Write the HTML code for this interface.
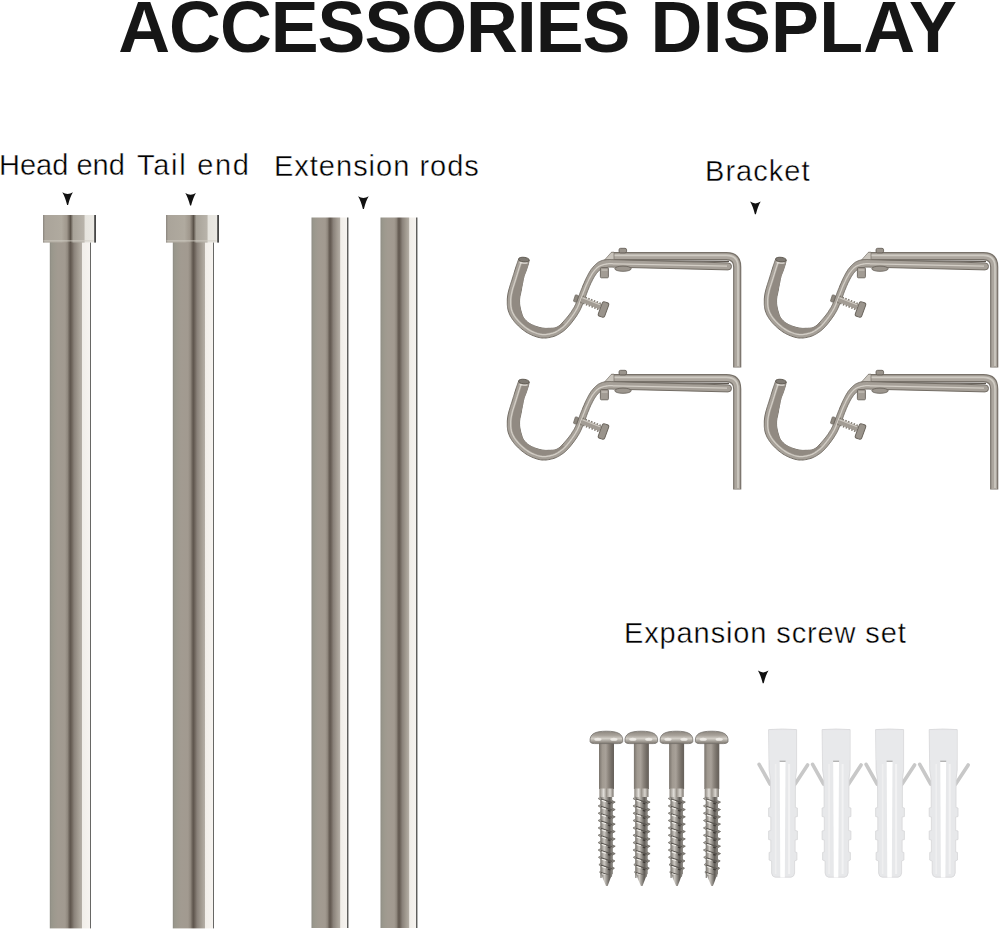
<!DOCTYPE html>
<html><head><meta charset="utf-8">
<style>
html,body{margin:0;padding:0;background:#fff;}
body{width:1000px;height:931px;position:relative;overflow:hidden;font-family:"Liberation Sans",sans-serif;}
svg{position:absolute;left:0;top:0;}
</style></head><body>
<svg width="1000" height="931" viewBox="0 0 1000 931">
<defs>
<linearGradient id="rod" x1="0" x2="1" y1="0" y2="0">
  <stop offset="0" stop-color="#8c8a82"/>
  <stop offset="0.04" stop-color="#98968b"/>
  <stop offset="0.1" stop-color="#9d998e"/>
  <stop offset="0.2" stop-color="#a29b91"/>
  <stop offset="0.37" stop-color="#a29a90"/>
  <stop offset="0.43" stop-color="#90887e"/>
  <stop offset="0.475" stop-color="#6c635a"/>
  <stop offset="0.50" stop-color="#60574f"/>
  <stop offset="0.535" stop-color="#6e655c"/>
  <stop offset="0.59" stop-color="#8a827a"/>
  <stop offset="0.68" stop-color="#a0998f"/>
  <stop offset="0.77" stop-color="#b3ada4"/>
  <stop offset="0.787" stop-color="#f1eee9"/>
  <stop offset="0.965" stop-color="#f6f3ef"/>
  <stop offset="0.972" stop-color="#5e5e5c"/>
  <stop offset="1" stop-color="#6e6e6c"/>
</linearGradient>
<linearGradient id="cap" x1="0" x2="1" y1="0" y2="0">
  <stop offset="0" stop-color="#8a857e"/>
  <stop offset="0.04" stop-color="#aaa49a"/>
  <stop offset="0.35" stop-color="#b0aa9f"/>
  <stop offset="0.45" stop-color="#9f978c"/>
  <stop offset="0.52" stop-color="#5a5249"/>
  <stop offset="0.57" stop-color="#a8a399"/>
  <stop offset="0.77" stop-color="#b8b3aa"/>
  <stop offset="0.80" stop-color="#e6e4de"/>
  <stop offset="0.962" stop-color="#ebe9e4"/>
  <stop offset="0.975" stop-color="#3a3a3a"/>
  <stop offset="1" stop-color="#505050"/>
</linearGradient>
<path id="arr" d="M-5.3 0 Q0 3.6 5.3 0 Q2.6 4.5 0.5 12.6 L-0.5 12.6 Q-2.6 4.5 -5.3 0 Z" fill="#111"/>

<linearGradient id="shank" x1="0" x2="1" y1="0" y2="0">
  <stop offset="0" stop-color="#79736c"/>
  <stop offset="0.22" stop-color="#a09990"/>
  <stop offset="0.45" stop-color="#a8a199"/>
  <stop offset="0.65" stop-color="#8a837b"/>
  <stop offset="0.85" stop-color="#716b64"/>
  <stop offset="1" stop-color="#66605a"/>
</linearGradient>
<linearGradient id="ring" x1="0" x2="1" y1="0" y2="0">
  <stop offset="0" stop-color="#8c867e"/>
  <stop offset="0.3" stop-color="#e2dfda"/>
  <stop offset="0.5" stop-color="#9a948c"/>
  <stop offset="0.75" stop-color="#d8d4ce"/>
  <stop offset="1" stop-color="#7a746d"/>
</linearGradient>
<linearGradient id="thr" x1="0" x2="1" y1="0" y2="0">
  <stop offset="0" stop-color="#7c7872"/>
  <stop offset="0.3" stop-color="#cdc9c3"/>
  <stop offset="0.55" stop-color="#918d87"/>
  <stop offset="0.75" stop-color="#625e59"/>
  <stop offset="1" stop-color="#8e8a84"/>
</linearGradient>
<linearGradient id="head" x1="0" x2="0" y1="0" y2="1">
  <stop offset="0" stop-color="#8c867e"/>
  <stop offset="0.35" stop-color="#aaa49c"/>
  <stop offset="0.6" stop-color="#d2cec7"/>
  <stop offset="1" stop-color="#7c766e"/>
</linearGradient>
<g id="screw">
  <rect x="-7.4" y="742" width="15" height="47" fill="url(#shank)"/>
  <path d="M-16.3 741.5 C-17 734 -11.5 731.2 0 731.2 C11.5 731.2 17 734 16.3 741.5 Q16 743.6 12 743.6 L-12 743.6 Q-16 743.6 -16.3 741.5 Z" fill="url(#head)" stroke="#75716c" stroke-width="0.8"/>
  <ellipse cx="-8.5" cy="739.3" rx="3.6" ry="1.5" fill="#ece9e4"/>
  <ellipse cx="7.5" cy="739.3" rx="3.6" ry="1.5" fill="#ece9e4"/>
  <rect x="-7" y="788.5" width="14.2" height="8.5" fill="url(#ring)"/>
  <path d="M-5.4 797.0 L-8.3 798.5 L-5.4 800.4 L-5.4 804.4 L-8.3 805.9 L-5.4 807.8 L-5.4 811.7 L-8.3 813.2 L-5.4 815.1 L-5.4 819.1 L-8.3 820.5 L-5.4 822.4 L-5.4 826.4 L-8.3 827.9 L-5.4 829.8 L-5.4 833.8 L-8.3 835.2 L-5.4 837.1 L-5.4 841.1 L-8.3 842.6 L-5.4 844.5 L-5.4 848.5 L-8.3 850.0 L-5.4 851.9 L-5.4 855.8 L-8.0 857.3 L-5.4 859.2 L-5.4 863.1 L-7.5 864.6 L-5.4 866.5 L-5.4 870.5 L-6.8 872.0 L-5.4 873.9 L-5.4 877.9 Z" fill="#aeaaa4" stroke="#7a7670" stroke-width="0.8"/>
  <path d="M5.6 800.6 L8.8 802.1 L5.6 804.0 L5.6 808.0 L8.8 809.5 L5.6 811.4 L5.6 815.3 L8.8 816.8 L5.6 818.7 L5.6 822.7 L8.8 824.1 L5.6 826.0 L5.6 830.0 L8.8 831.5 L5.6 833.4 L5.6 837.4 L8.8 838.9 L5.6 840.8 L5.6 844.7 L8.8 846.2 L5.6 848.1 L5.6 852.1 L8.8 853.6 L5.6 855.5 L5.6 859.4 L8.5 860.9 L5.6 862.8 L5.6 866.8 L8.0 868.2 L5.6 870.1 L5.6 874.1 Z" fill="#8c8882" stroke="#68645e" stroke-width="0.8"/>
  <rect x="-5.6" y="797" width="11.4" height="78" fill="url(#thr)"/>
  <path d="M-5.4 799.0 L5.6 802.6 M-5.4 806.4 L5.6 810.0 M-5.4 813.7 L5.6 817.3 M-5.4 821.0 L5.6 824.6 M-5.4 828.4 L5.6 832.0 M-5.4 835.8 L5.6 839.4 M-5.4 843.1 L5.6 846.7 M-5.4 850.5 L5.6 854.1 M-5.4 857.8 L5.6 861.4 M-5.4 865.1 L5.6 868.8 M-5.4 872.5 L5.6 876.1" fill="none" stroke="#5a5651" stroke-width="1.2"/>
  <path d="M-4.6 800.4 L-0.4 801.7 M-4.6 807.8 L-0.4 809.1 M-4.6 815.1 L-0.4 816.4 M-4.6 822.4 L-0.4 823.8 M-4.6 829.8 L-0.4 831.1 M-4.6 837.1 L-0.4 838.5 M-4.6 844.5 L-0.4 845.8 M-4.6 851.9 L-0.4 853.2 M-4.6 859.2 L-0.4 860.5 M-4.6 866.5 L-0.4 867.9 M-4.6 873.9 L-0.4 875.2" fill="none" stroke="#f0eee9" stroke-width="1.1"/>
  <path d="M1.5 803.0 L4 803.8 M1.5 810.4 L4 811.1 M1.5 817.7 L4 818.5 M1.5 825.0 L4 825.8 M1.5 832.4 L4 833.2 M1.5 839.8 L4 840.5 M1.5 847.1 L4 847.9 M1.5 854.5 L4 855.2 M1.5 861.8 L4 862.6 M1.5 869.1 L4 869.9 M1.5 876.5 L4 877.3" fill="none" stroke="#3e3a36" stroke-width="1.3"/>
  <path d="M-5.2 874.5 L5.6 874.5 L1.2 886 L-0.4 886 Z" fill="url(#thr)"/>
</g>
<g id="anchor">
  <path d="M-23.5 764.3 L-12.5 784" stroke="#c8c8c8" stroke-width="3.6" stroke-linecap="round"/>
  <path d="M25 765 L12.5 784" stroke="#c8c8c8" stroke-width="3.6" stroke-linecap="round"/>
  <path d="M-14 729.6 Q0 728.4 14 729.6 L14 770 L13 778 L12.8 790 L12.8 807.5 L14.8 808 L14.8 816.5 L12.5 817 L12.5 830.5 L14.8 831 L14.8 839.5 L12.5 840 L12.5 852 L14.3 852.5 L14.3 860 L12 861 L12 873 Q11.5 877 8.5 877.2 L-7.5 877.2 Q-10.5 877 -11 873 L-11 861 L-13.5 860 L-13.5 852.5 L-11.8 852 L-11.8 840 L-14 839.5 L-14 831 L-11.8 830.5 L-11.8 817 L-14 816.5 L-14 808 L-12 807.5 L-12 790 L-12.3 778 L-13.5 770 Z" fill="#e7e8ea" stroke="#d6d6d8" stroke-width="0.8"/>
  <rect x="-13.2" y="730.3" width="26.6" height="30" fill="#e8e9eb"/>
  <path d="M-2.9 761.5 L2.9 761.5 L2.2 877.5 L-2.3 877.5 Z" fill="#ffffff"/>
  <path d="M-3 761.3 L3 761.3" stroke="#b4b4b4" stroke-width="1.4"/>
  <path d="M6.5 764 L6.5 874" stroke="#f2f2f3" stroke-width="2"/>
  <path d="M-7 764 L-7 874" stroke="#efeff0" stroke-width="1.6"/>
</g>
</defs>

<!-- title -->
<g font-family="Liberation Sans" font-weight="bold" font-size="71.8" fill="#161616">
<text x="118.3" y="51.6" textLength="512.2" lengthAdjust="spacing">ACCESSORIES</text>
<text x="650.5" y="51.6" textLength="306.3" lengthAdjust="spacing">DISPLAY</text>
</g>

<!-- labels -->
<g font-family="Liberation Sans" font-size="29" fill="#000" stroke="#fff" stroke-width="0.4">
<text x="-1" y="174.5">Head end</text>
<text x="137" y="175" textLength="112" lengthAdjust="spacing">Tail end</text>
<text x="274" y="175.5" textLength="204.8" lengthAdjust="spacing">Extension rods</text>
<text x="705" y="180.5" textLength="104.6" lengthAdjust="spacing">Bracket</text>
<text x="624" y="643" textLength="281.8" lengthAdjust="spacing">Expansion screw set</text>
</g>

<!-- arrows -->
<use href="#arr" x="67.6" y="192.3"/>
<use href="#arr" x="190.6" y="192.9"/>
<use href="#arr" x="363.4" y="196.3"/>
<use href="#arr" x="755.4" y="201.6"/>
<use href="#arr" x="763.2" y="670.6"/>

<!-- rods -->
<rect x="49.8" y="240" width="41.2" height="688.4" fill="url(#rod)"/>
<rect x="43" y="215" width="53" height="27.6" fill="url(#cap)"/>
<rect x="43.5" y="240" width="50" height="1.6" fill="#d2cdc5" opacity="0.55"/>
<rect x="172.8" y="240" width="41.2" height="688.4" fill="url(#rod)"/>
<rect x="166" y="215" width="53" height="27.6" fill="url(#cap)"/>
<rect x="166.5" y="240" width="50" height="1.6" fill="#d2cdc5" opacity="0.55"/>
<rect x="311.5" y="217.5" width="37" height="710.5" fill="url(#rod)"/>
<rect x="380.5" y="217.5" width="37" height="710.5" fill="url(#rod)"/>


<!-- bracket template -->
<g id="br">
  <!-- L bracket: upper rod + vertical arm -->
  <path d="M611 256.2 L726.5 256.2 Q737.2 256.2 737.2 266.9 L737.2 367.6" fill="none" stroke="#78726a" stroke-width="8.2"/>
  <path d="M611 256.2 L726.5 256.2 Q737.2 256.2 737.2 266.9 L737.2 367" fill="none" stroke="#aca69e" stroke-width="5.8"/>
  <path d="M612 255.4 L726.5 255.4 Q738 255.4 738 266.9 L738 366" fill="none" stroke="#cfcbc3" stroke-width="1.6"/>
  <path d="M604.5 260 L611.5 252.2 L614 252.2 L614 260.2 Z" fill="#c9c4bc" stroke="#7a746c" stroke-width="0.7"/>
  <!-- top nub -->
  <rect x="619" y="248.3" width="7.6" height="4.6" rx="1.6" fill="#9a948c" stroke="#5e5850" stroke-width="0.8"/>
  <!-- shadow line between rods -->
  <path d="M610 260.6 L729 261.3" stroke="#5c564f" stroke-width="1.2" fill="none"/>
  <!-- hook: band -->
  <path d="M518.6 259.2 L518.3 260.1 L518.0 260.9 L517.7 261.8 L517.4 262.6 L517.1 263.5 L516.8 264.3 L516.5 265.2 L516.2 266.1 L515.9 267.0 L515.6 268.0 L515.3 269.0 L514.9 270.1 L514.6 271.1 L514.3 272.2 L513.9 273.4 L513.6 274.5 L513.2 275.6 L512.9 276.8 L512.5 277.9 L512.2 279.0 L511.9 280.1 L511.5 281.2 L511.1 282.3 L510.7 283.4 L510.4 284.6 L510.0 285.7 L509.7 286.8 L509.4 287.9 L509.1 288.9 L508.8 290.0 L508.6 291.0 L508.3 292.0 L508.1 293.0 L507.9 294.0 L507.8 295.0 L507.6 296.0 L507.5 297.0 L507.4 298.0 L507.3 299.0 L507.3 300.0 L507.3 301.1 L507.3 302.1 L507.3 303.2 L507.3 304.4 L507.4 305.5 L507.5 306.6 L507.6 307.7 L507.8 308.8 L508.1 309.9 L508.4 311.0 L508.8 312.1 L509.2 313.1 L509.6 314.2 L510.1 315.2 L510.7 316.3 L511.3 317.3 L512.0 318.4 L512.7 319.4 L513.5 320.5 L514.3 321.5 L515.2 322.6 L516.2 323.7 L517.3 324.8 L518.4 325.9 L519.6 327.0 L520.8 328.1 L522.1 329.2 L523.4 330.2 L524.7 331.1 L526.0 332.0 L527.3 332.8 L528.7 333.6 L530.2 334.3 L531.6 335.0 L533.1 335.6 L534.6 336.2 L536.1 336.7 L537.6 337.2 L539.1 337.5 L540.5 337.8 L541.9 338.0 L543.3 338.0 L544.7 338.0 L546.1 338.0 L547.5 337.8 L548.8 337.6 L550.2 337.3 L551.5 337.0 L552.8 336.7 L554.0 336.3 L555.2 335.9 L556.4 335.4 L557.5 334.8 L558.6 334.3 L559.7 333.6 L560.8 332.9 L561.8 332.2 L562.9 331.5 L563.8 330.8 L564.8 330.0 L565.7 329.2 L566.6 328.4 L567.5 327.5 L568.3 326.6 L569.1 325.7 L569.9 324.8 L570.7 323.8 L571.4 322.9 L572.2 321.9 L572.9 321.0 L573.6 320.1 L574.3 319.1 L575.0 318.1 L575.7 317.2 L576.4 316.2 L577.0 315.2 L577.6 314.2 L578.2 313.3 L578.8 312.3 L579.3 311.4 L579.8 310.5 L580.3 309.6 L580.7 308.7 L581.1 307.8 L581.5 306.9 L581.9 306.0 L582.2 305.1 L582.6 304.3 L582.9 303.4 L583.3 302.5 L583.7 301.6 L584.0 300.7 L584.3 299.8 L584.7 298.9 L585.0 298.0 L585.3 297.1 L585.6 296.2 L586.0 295.3 L586.3 294.5 L586.6 293.6 L586.9 292.8 L587.2 291.9 L587.5 291.1 L587.8 290.3 L588.2 289.6 L588.5 288.8 L588.8 288.0 L589.1 287.2 L589.4 286.4 L589.8 285.6 L590.2 284.8 L590.5 283.9 L590.9 283.1 L591.3 282.2 L591.8 281.4 L592.2 280.6 L592.6 279.7 L593.0 279.0 L593.4 278.2 L593.8 277.5 L594.2 276.8 L594.6 276.2 L595.0 275.6 L595.4 275.0 L595.8 274.4 L596.2 273.8 L596.6 273.3 L597.0 272.8 L597.4 272.4 L597.8 271.9 L598.2 271.5 L598.6 271.1 L599.0 270.7 L599.3 270.4 L599.7 270.0 L600.1 269.7 L600.5 269.5 L600.9 269.2 L601.4 268.9 L601.9 268.7 L602.4 268.5 L603.0 268.3 L603.6 268.1 L604.3 267.9 L604.9 267.8 L605.6 267.6 L606.3 267.5 L607.0 267.4 L607.6 267.3 L608.3 267.2 L609.0 267.1 L609.6 267.1 L610.3 267.1 L611.0 267.1 L611.6 267.1 L612.3 267.1 L613.0 267.2 L613.7 267.2 L614.3 267.2 L615.0 267.2 L728 269.9 A3.5 3.5 0 0 0 728 262.9 L615.0 259.7 L614.3 259.7 L613.7 259.7 L613.0 259.6 L612.3 259.6 L611.6 259.6 L611.0 259.6 L610.3 259.5 L609.6 259.5 L609.0 259.6 L608.3 259.6 L607.6 259.6 L607.0 259.7 L606.3 259.7 L605.7 259.8 L605.0 259.9 L604.4 260.0 L603.8 260.1 L603.1 260.2 L602.5 260.4 L601.9 260.6 L601.3 260.8 L600.7 261.1 L600.1 261.3 L599.6 261.6 L599.0 261.9 L598.4 262.2 L597.9 262.6 L597.3 263.0 L596.8 263.4 L596.2 263.9 L595.6 264.4 L595.1 264.9 L594.5 265.5 L593.9 266.1 L593.3 266.8 L592.8 267.4 L592.2 268.1 L591.7 268.8 L591.1 269.5 L590.6 270.3 L590.1 271.1 L589.6 271.9 L589.1 272.8 L588.6 273.6 L588.1 274.6 L587.6 275.5 L587.2 276.4 L586.7 277.3 L586.2 278.3 L585.8 279.2 L585.4 280.1 L584.9 281.1 L584.5 282.1 L584.1 283.1 L583.7 284.0 L583.2 285.0 L582.8 286.0 L582.5 287.0 L582.1 287.9 L581.7 288.8 L581.3 289.7 L581.0 290.5 L580.7 291.3 L580.4 292.1 L580.1 292.8 L579.8 293.6 L579.5 294.4 L579.2 295.2 L578.8 296.0 L578.5 296.9 L578.1 297.8 L577.8 298.7 L577.4 299.7 L577.1 300.6 L576.7 301.6 L576.3 302.6 L575.9 303.6 L575.5 304.5 L575.0 305.5 L574.5 306.5 L574.0 307.5 L573.4 308.4 L572.8 309.4 L572.2 310.3 L571.6 311.3 L571.0 312.3 L570.3 313.2 L569.6 314.2 L568.8 315.2 L568.0 316.2 L567.1 317.3 L566.2 318.4 L565.2 319.5 L564.2 320.7 L563.2 321.9 L562.1 323.0 L561.0 324.1 L560.0 325.1 L559.0 325.9 L558.0 326.6 L557.1 327.1 L556.1 327.5 L555.2 327.8 L554.3 328.0 L553.4 328.1 L552.6 328.2 L551.7 328.2 L550.8 328.3 L549.9 328.3 L549.0 328.3 L548.1 328.3 L547.2 328.4 L546.3 328.4 L545.5 328.4 L544.6 328.3 L543.7 328.2 L542.8 328.1 L541.9 328.0 L541.0 327.8 L540.0 327.6 L539.0 327.3 L538.0 327.0 L536.9 326.7 L535.8 326.3 L534.7 325.9 L533.6 325.4 L532.5 325.0 L531.5 324.5 L530.6 324.0 L529.7 323.5 L528.9 323.0 L528.1 322.5 L527.4 321.9 L526.8 321.4 L526.2 320.8 L525.6 320.2 L525.0 319.6 L524.5 319.0 L524.0 318.3 L523.5 317.5 L523.0 316.7 L522.6 315.8 L522.2 314.9 L521.9 313.9 L521.6 312.9 L521.3 311.9 L521.0 310.9 L520.7 309.9 L520.5 308.9 L520.3 308.0 L520.1 307.1 L520.0 306.2 L519.8 305.4 L519.7 304.5 L519.6 303.6 L519.6 302.8 L519.6 301.9 L519.5 301.1 L519.6 300.2 L519.6 299.3 L519.7 298.4 L519.8 297.5 L519.9 296.7 L520.1 295.8 L520.3 294.9 L520.5 294.0 L520.7 293.0 L520.9 292.1 L521.1 291.1 L521.3 290.0 L521.5 288.9 L521.7 287.6 L522.0 286.3 L522.2 284.9 L522.5 283.5 L522.8 282.2 L523.0 280.9 L523.3 279.6 L523.5 278.5 L523.8 277.5 L524.0 276.6 L524.2 275.9 L524.4 275.2 L524.6 274.7 L524.8 274.1 L525.1 273.6 L525.3 273.1 L525.5 272.6 L525.7 272.1 L525.9 271.5 L526.1 270.9 L526.4 270.2 L526.6 269.5 L526.8 268.8 L527.1 268.2 L527.3 267.5 L527.5 266.8 L527.7 266.2 L527.9 265.6 L528.1 265.0 L528.3 264.5 L528.4 264.0 L528.5 263.5 L528.6 263.1 L528.7 262.6 L528.8 262.2 L528.9 261.8 L529.0 261.4 L529.1 260.9 L529.2 260.5 Z" fill="#a6a098" stroke="#736d65" stroke-width="1"/>
  <!-- inner dark face of hook -->
  <path d="M523.0 260.7 L522.7 261.6 L522.4 262.4 L522.1 263.3 L521.8 264.1 L521.5 265.0 L521.2 265.8 L520.9 266.7 L520.6 267.6 L520.3 268.5 L520.0 269.4 L519.7 270.4 L519.3 271.4 L519.0 272.5 L518.7 273.6 L518.3 274.7 L518.0 275.8 L517.6 277.0 L517.3 278.1 L516.9 279.2 L516.6 280.4 L516.2 281.5 L515.9 282.7 L515.5 283.8 L515.1 284.9 L514.8 286.0 L514.4 287.1 L514.1 288.1 L513.8 289.1 L513.5 290.1 L513.3 291.1 L513.0 292.1 L512.8 293.0 L512.6 294.0 L512.5 294.9 L512.3 295.7 L512.2 296.6 L512.1 297.5 L512.0 298.3 L511.9 299.2 L511.9 300.1 L511.9 301.1 L511.9 302.1 L511.9 303.1 L511.9 304.1 L512.0 305.1 L512.1 306.1 L512.2 307.0 L512.3 307.9 L512.5 308.8 L512.8 309.6 L513.1 310.5 L513.4 311.4 L513.8 312.3 L514.2 313.2 L514.7 314.1 L515.2 314.9 L515.8 315.8 L516.4 316.7 L517.1 317.6 L517.8 318.6 L518.7 319.5 L519.6 320.5 L520.6 321.6 L521.6 322.6 L522.7 323.7 L523.8 324.7 L525.0 325.6 L526.2 326.5 L527.3 327.4 L528.4 328.1 L529.6 328.8 L530.9 329.5 L532.2 330.2 L533.5 330.8 L534.9 331.4 L536.2 331.9 L537.5 332.4 L538.8 332.7 L540.0 333.0 L541.2 333.3 L542.3 333.4 L543.4 333.4 L544.6 333.4 L545.7 333.4 L546.9 333.2 L548.0 333.1 L549.2 332.8 L550.4 332.6 L551.5 332.3 L552.6 331.9 L553.6 331.6 L554.5 331.2 L555.5 330.7 L556.4 330.2 L557.4 329.7 L558.3 329.1 L559.2 328.5 L560.1 327.8 L561.0 327.1 L561.9 326.4 L562.7 325.8 L563.4 325.1 L564.2 324.3 L562.1 323.0 L561.0 324.1 L560.0 325.1 L559.0 325.9 L558.0 326.6 L557.1 327.1 L556.1 327.5 L555.2 327.8 L554.3 328.0 L553.4 328.1 L552.6 328.2 L551.7 328.2 L550.8 328.3 L549.9 328.3 L549.0 328.3 L548.1 328.3 L547.2 328.4 L546.3 328.4 L545.5 328.4 L544.6 328.3 L543.7 328.2 L542.8 328.1 L541.9 328.0 L541.0 327.8 L540.0 327.6 L539.0 327.3 L538.0 327.0 L536.9 326.7 L535.8 326.3 L534.7 325.9 L533.6 325.4 L532.5 325.0 L531.5 324.5 L530.6 324.0 L529.7 323.5 L528.9 323.0 L528.1 322.5 L527.4 321.9 L526.8 321.4 L526.2 320.8 L525.6 320.2 L525.0 319.6 L524.5 319.0 L524.0 318.3 L523.5 317.5 L523.0 316.7 L522.6 315.8 L522.2 314.9 L521.9 313.9 L521.6 312.9 L521.3 311.9 L521.0 310.9 L520.7 309.9 L520.5 308.9 L520.3 308.0 L520.1 307.1 L520.0 306.2 L519.8 305.4 L519.7 304.5 L519.6 303.6 L519.6 302.8 L519.6 301.9 L519.5 301.1 L519.6 300.2 L519.6 299.3 L519.7 298.4 L519.8 297.5 L519.9 296.7 L520.1 295.8 L520.3 294.9 L520.5 294.0 L520.7 293.0 L520.9 292.1 L521.1 291.1 L521.3 290.0 L521.5 288.9 L521.7 287.6 L522.0 286.3 L522.2 284.9 L522.5 283.5 L522.8 282.2 L523.0 280.9 L523.3 279.6 L523.5 278.5 L523.8 277.5 L524.0 276.6 L524.2 275.9 L524.4 275.2 L524.6 274.7 L524.8 274.1 L525.1 273.6 L525.3 273.1 L525.5 272.6 L525.7 272.1 L525.9 271.5 L526.1 270.9 L526.4 270.2 L526.6 269.5 L526.8 268.8 L527.1 268.2 L527.3 267.5 L527.5 266.8 L527.7 266.2 L527.9 265.6 L528.1 265.0 L528.3 264.5 L528.4 264.0 L528.5 263.5 L528.6 263.1 L528.7 262.6 L528.8 262.2 L528.9 261.8 L529.0 261.4 L529.1 260.9 L529.2 260.5 Z" fill="#918a82"/>
  <!-- hook highlights -->
  <path d="M521.5 261.2 L521.2 262.0 L520.9 262.9 L520.6 263.7 L520.3 264.6 L520.0 265.4 L519.7 266.3 L519.4 267.2 L519.1 268.1 L518.8 269.0 L518.5 270.0 L518.2 271.1 L517.9 272.1 L517.5 273.2 L517.2 274.4 L516.8 275.5 L516.5 276.6 L516.1 277.8 L515.8 278.9 L515.4 280.0 L515.1 281.1 L514.7 282.3 L514.3 283.4 L514.0 284.5 L513.6 285.6 L513.3 286.7 L512.9 287.8 L512.6 288.8 L512.4 289.8 L512.1 290.8 L511.9 291.8 L511.7 292.8 L511.5 293.7 L511.3 294.6 L511.1 295.5 L511.0 296.4 L510.9 297.3 L510.8 298.2 L510.7 299.1 L510.7 300.1 L510.7 301.1 L510.7 302.1 L510.7 303.2 L510.7 304.2 L510.8 305.2 L510.9 306.2 L511.0 307.2 L511.2 308.1 L511.4 309.1 L511.6 310.0 L512.0 310.9 L512.3 311.8 L512.7 312.8 L513.2 313.7 L513.7 314.6 L514.2 315.6 L514.8 316.5 L515.4 317.4 L516.1 318.4 L516.9 319.3 L517.8 320.3 L518.7 321.4 L519.7 322.4 L520.8 323.5 L521.9 324.5 L523.1 325.6 L524.2 326.6 L525.4 327.5 L526.6 328.3 L527.8 329.1 L529.0 329.9 L530.3 330.6 L531.7 331.3 L533.0 331.9 L534.4 332.5 L535.8 333.0 L537.2 333.5 L538.5 333.9 L539.8 334.2 L541.0 334.4 L542.2 334.6 L543.4 334.6 L544.6 334.6 L545.8 334.6 L547.0 334.4 L548.3 334.2 L549.5 334.0 L550.7 333.7 L551.8 333.4 L552.9 333.1 L554.0 332.7 L555.0 332.3 L556.0 331.8 L557.0 331.3 L558.0 330.7 L558.9 330.1 L559.9 329.5 L560.8 328.8 L561.8 328.1 L562.6 327.4 L563.5 326.7 L564.3 325.9 L565.0 325.2 L565.8 324.3 L566.6 323.5 L567.3 322.6 L568.0 321.7 L568.8 320.8 L569.5 319.8 L570.2 318.9 L570.9 318.0 L571.6 317.1 L572.2 316.2 L572.9 315.2 L573.5 314.3 L574.1 313.4 L574.7 312.4 L575.3 311.5 L575.8 310.6 L576.3 309.7 L576.8 308.9 L577.2 308.1 L577.6 307.2 L578.0 306.4 L578.4 305.6 L578.7 304.7 L579.1 303.9 L579.4 303.0 L579.8 302.1 L580.1 301.2 L580.5 300.4 L580.8 299.5 L581.2 298.6 L581.5 297.7 L581.8 296.8 L582.1 296.0 L582.4 295.1 L582.8 294.2 L583.1 293.3 L583.4 292.4 L583.7 291.5 L584.1 290.7 L584.4 289.9 L584.7 289.1 L585.0 288.3 L585.3 287.5 L585.6 286.7 L586.0 285.9 L586.3 285.0 L586.7 284.2 L587.1 283.4 L587.5 282.5 L587.9 281.7 L588.3 280.8 L588.7 279.9 L589.1 279.0 L589.6 278.2 L590.0 277.4 L590.4 276.6 L590.9 275.8 L591.3 275.1 L591.7 274.4 L592.2 273.7 L592.6 273.0 L593.0 272.4 L593.5 271.8 L593.9 271.2 L594.4 270.7 L594.8 270.1 L595.3 269.6 L595.7 269.1 L596.2 268.7 L596.6 268.3 L597.1 267.8 L597.6 267.4 L598.1 267.0 L598.6 266.6 L599.2 266.2 L599.9 265.9 L600.5 265.6 L601.2 265.3 L602.0 265.0 L602.7 264.8 L603.4 264.6 L604.2 264.4 L605.0 264.3 L605.7 264.1 L606.5 264.0 L607.2 263.9 L607.9 263.8 L608.7 263.7 L609.5 263.7 L610.3 263.7 L611.0 263.7 L611.7 263.7 L612.4 263.7 L613.1 263.8 L613.8 263.8 L614.4 263.8 L615.0 263.8 L727 266.2" fill="none" stroke="#d3cec6" stroke-width="1.3"/>
  <!-- hook tip -->
  <ellipse cx="523.9" cy="259.6" rx="5.4" ry="2.3" transform="rotate(6 523.9 259.6)" fill="#7f7a73" stroke="#5e5850" stroke-width="0.9"/>
  <path d="M519.6 262.6 Q523 263.4 527.6 262.8" stroke="#e6e2dc" stroke-width="1.2" fill="none"/>
  <!-- set screw block -->
  <rect x="600.4" y="267.6" width="8" height="10.2" rx="1" fill="#a29c94" stroke="#6a645c" stroke-width="0.9"/>
  <path d="M601.5 270 L607.5 270" stroke="#d0cbc3" stroke-width="1"/>
  <!-- washer under rod -->
  <ellipse cx="623" cy="268.7" rx="8.2" ry="2.6" fill="#9c968e" stroke="#6a645c" stroke-width="0.9"/>
  <!-- thumb screw -->
  <rect x="574.3" y="295" width="3.4" height="7" rx="0.8" fill="#8e887f" stroke="#5e5850" stroke-width="0.6" transform="rotate(18 576 298.5)"/>
  <path d="M581.5 299.2 L600.5 306.8" stroke="#7e786f" stroke-width="8" fill="none" stroke-dasharray="1.5 1.5"/>
  <path d="M581.5 299.2 L600.5 306.8" stroke="#a29c94" stroke-width="5.4" fill="none"/>
  <path d="M582.5 297.8 L600 304.8" stroke="#d0cbc3" stroke-width="1.2" fill="none"/>
  <rect x="-3.4" y="-7.6" width="6.8" height="15.2" rx="2" transform="translate(603.5 309.5) rotate(20)" fill="#9a948c" stroke="#6a645c" stroke-width="1"/>
</g>
<use href="#br" x="257" y="0"/>
<use href="#br" x="0" y="122"/>
<use href="#br" x="257" y="122"/>

<!-- screws -->
<use href="#screw" x="606.4" y="0"/>
<use href="#screw" x="641.3" y="0"/>
<use href="#screw" x="676.5" y="0"/>
<use href="#screw" x="711.7" y="0"/>
<!-- anchors -->
<use href="#anchor" x="782.6" y="0"/>
<use href="#anchor" x="836.1" y="0"/>
<use href="#anchor" x="889.6" y="0"/>
<use href="#anchor" x="943.2" y="0"/>

</svg>
</body></html>
